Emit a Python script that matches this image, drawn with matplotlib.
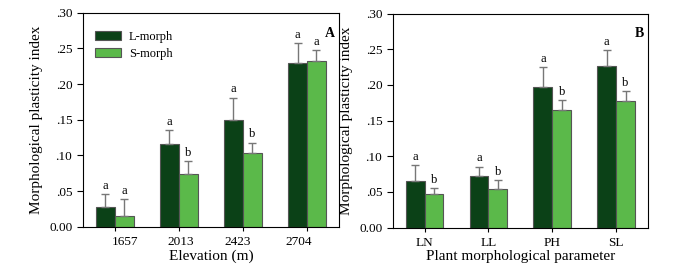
import numpy as np
import matplotlib.pyplot as plt
from matplotlib.transforms import ScaledTranslation

plt.rcParams['font.family'] = ['Liberation Serif', 'DejaVu Serif']

# panel A: by elevation
elev = ['1657', '2013', '2423', '2704']
a_l = [0.0276, 0.1159, 0.150, 0.229]
a_l_err = [0.0184, 0.0201, 0.031, 0.029]
a_s = [0.0145, 0.0743, 0.103, 0.232]
a_s_err = [0.0245, 0.0182, 0.015, 0.016]
a_l_let = ['a', 'a', 'a', 'a']
a_s_let = ['a', 'b', 'b', 'a']

# panel B: by morphological parameter
params = ['LN', 'LL', 'PH', 'SL']
b_l = [0.0653, 0.0728, 0.1965, 0.2258]
b_l_err = [0.0227, 0.0126, 0.028, 0.0229]
b_s = [0.047, 0.0537, 0.1647, 0.1778]
b_s_err = [0.0085, 0.0126, 0.0143, 0.014]
b_l_let = ['a', 'a', 'a', 'a']
b_s_let = ['b', 'b', 'b', 'b']

dark = '#0b4117'
light = '#5bb94a'
w = 0.295

fig = plt.figure(figsize=(6.91, 2.79), dpi=100)
axA = fig.add_axes([82.7 / 691, 1 - 226.7 / 279, 256.3 / 691, 214 / 279])
axB = fig.add_axes([392.7 / 691, 1 - 227.5 / 279, 255.3 / 691, 214 / 279])


def panel(ax, cats, lv, le, sv, se, llet, slet, tag, xlabel):
    x = np.arange(len(cats))
    ekw = dict(ecolor='#777777', elinewidth=1.0, capsize=3, capthick=1.0)
    ax.bar(x - w / 2, lv, w, color=dark, edgecolor='#555555', linewidth=0.8,
           yerr=[np.zeros(len(le)), le], error_kw=ekw, label='L-morph')
    ax.bar(x + w / 2, sv, w, color=light, edgecolor='#555555', linewidth=0.8,
           yerr=[np.zeros(len(se)), se], error_kw=ekw, label='S-morph')
    for i in range(len(cats)):
        ax.text(x[i] - w / 2, lv[i] + le[i] + 0.003, llet[i], ha='center',
                va='bottom', fontsize=9)
        ax.text(x[i] + w / 2, sv[i] + se[i] + 0.003, slet[i], ha='center',
                va='bottom', fontsize=9)
    ax.set_xlim(-0.5, 3.5)
    ax.set_ylim(0, 0.30)
    ax.set_xticks(x)
    ax.set_xticklabels(cats, fontsize=9.5)
    ax.tick_params(axis='x', length=3, width=0.8)
    ax.set_yticks([0, 0.05, 0.10, 0.15, 0.20, 0.25, 0.30])
    ax.set_yticklabels(['0.00', '.05', '.10', '.15', '.20', '.25', '.30'],
                       fontsize=9.5)
    ax.tick_params(axis='y', length=4, width=0.8)
    for s in ax.spines.values():
        s.set_linewidth(0.8)
    ax.set_ylabel('Morphological plasticity index', fontsize=11, labelpad=4)
    ax.set_xlabel(xlabel, fontsize=11, labelpad=1)
    ax.text(0.985, 0.935, tag, transform=ax.transAxes, ha='right', va='top',
            fontsize=10, fontweight='bold')


panel(axA, elev, a_l, a_l_err, a_s, a_s_err, a_l_let, a_s_let, 'A',
      'Elevation (m)')
panel(axB, params, b_l, b_l_err, b_s, b_s_err, b_l_let, b_s_let, 'B',
      'Plant morphological parameter')

# panel A's tick labels sit a little off their ticks in the original
for lab, dx in zip(axA.get_xticklabels(), [10, 2, -5, -8]):
    lab.set_transform(lab.get_transform() +
                      ScaledTranslation(dx / 100, 0, fig.dpi_scale_trans))

axA.legend(loc='upper left', frameon=False, fontsize=9, handlelength=2.1,
           handleheight=0.75, borderaxespad=0.6, labelspacing=0.45,
           handletextpad=0.6, bbox_to_anchor=(0.0, 0.975))

fig.savefig('out.png', dpi=100)
